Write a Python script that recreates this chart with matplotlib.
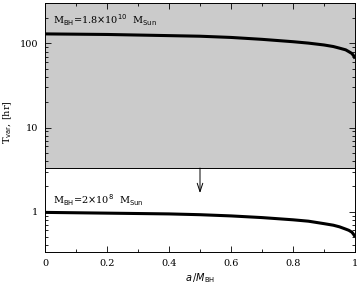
import numpy as np
import matplotlib
matplotlib.use("Agg")
import matplotlib.pyplot as plt

# spin values and variability timescales
spin = [0.0, 0.1, 0.2, 0.3, 0.4, 0.5, 0.6, 0.7, 0.8, 0.85, 0.9, 0.93, 0.95, 0.97,
        0.98, 0.99, 0.995, 0.998, 1.0]
t_big = [130, 129, 128, 126, 124, 122, 118, 112, 105, 101, 96, 92, 88, 84,
         80, 76, 72, 69, 66]
t_small = [0.98, 0.97, 0.96, 0.95, 0.94, 0.92, 0.89, 0.85, 0.80, 0.77, 0.72, 0.69, 0.66, 0.62,
           0.60, 0.57, 0.54, 0.52, 0.50]
grey_level = 3.3
arrow_x = 0.5
arrow_tip = 1.66

plt.rcParams['font.family'] = ['DejaVu Serif']

fig = plt.figure(figsize=(3.6, 2.86), dpi=100)
ax = fig.add_axes([45/360, 1 - 251.7/286, 310/360, 248.7/286])

ax.set_yscale('log')
ax.set_xlim(0, 1)
ax.set_ylim(0.334, 303)

ax.axhspan(grey_level, 303, color='#cbcbcb', zorder=0, lw=0)
ax.axhline(grey_level, color='black', lw=0.7, zorder=1)

ax.plot(spin, t_big, color='black', lw=2.2, solid_capstyle='butt', zorder=3)
ax.plot(spin, t_small, color='black', lw=2.2, solid_capstyle='butt', zorder=3)

ax.annotate('', xy=(arrow_x, arrow_tip), xytext=(arrow_x, grey_level),
            arrowprops=dict(arrowstyle='->,head_length=0.6,head_width=0.2',
                            color='black', lw=0.7,
                            mutation_scale=10, shrinkA=0, shrinkB=0))

ax.text(0.025, 190, r'M$_{\rm BH}$=1.8$\times$10$^{10}$  M$_{\rm Sun}$',
        fontsize=7, va='center', ha='left')
ax.text(0.025, 1.38, r'M$_{\rm BH}$=2$\times$10$^{8}$  M$_{\rm Sun}$',
        fontsize=7, va='center', ha='left')

ax.set_xticks([0, 0.2, 0.4, 0.6, 0.8, 1.0])
ax.set_xticklabels(['0', '0.2', '0.4', '0.6', '0.8', '1'])
ax.set_xticks(np.arange(0.1, 1.0, 0.2), minor=True)
ax.set_yticks([1, 10, 100])
ax.set_yticklabels(['1', '10', '100'])

ax.tick_params(which='both', direction='in', top=True, right=True,
               labelsize=7, width=0.6)
ax.tick_params(which='major', length=4, pad=5)
ax.tick_params(which='minor', length=2)
for s in ax.spines.values():
    s.set_linewidth(0.7)

ax.set_xlabel(r'$a\,/M_{\rm BH}$', fontsize=7)
ax.xaxis.set_label_coords(0.5, -0.08)
ax.set_ylabel(r'T$_{\rm var}$, [hr]', fontsize=7)
ax.yaxis.set_label_coords(-0.10, 0.52)

fig.savefig('out.png', dpi=100)
